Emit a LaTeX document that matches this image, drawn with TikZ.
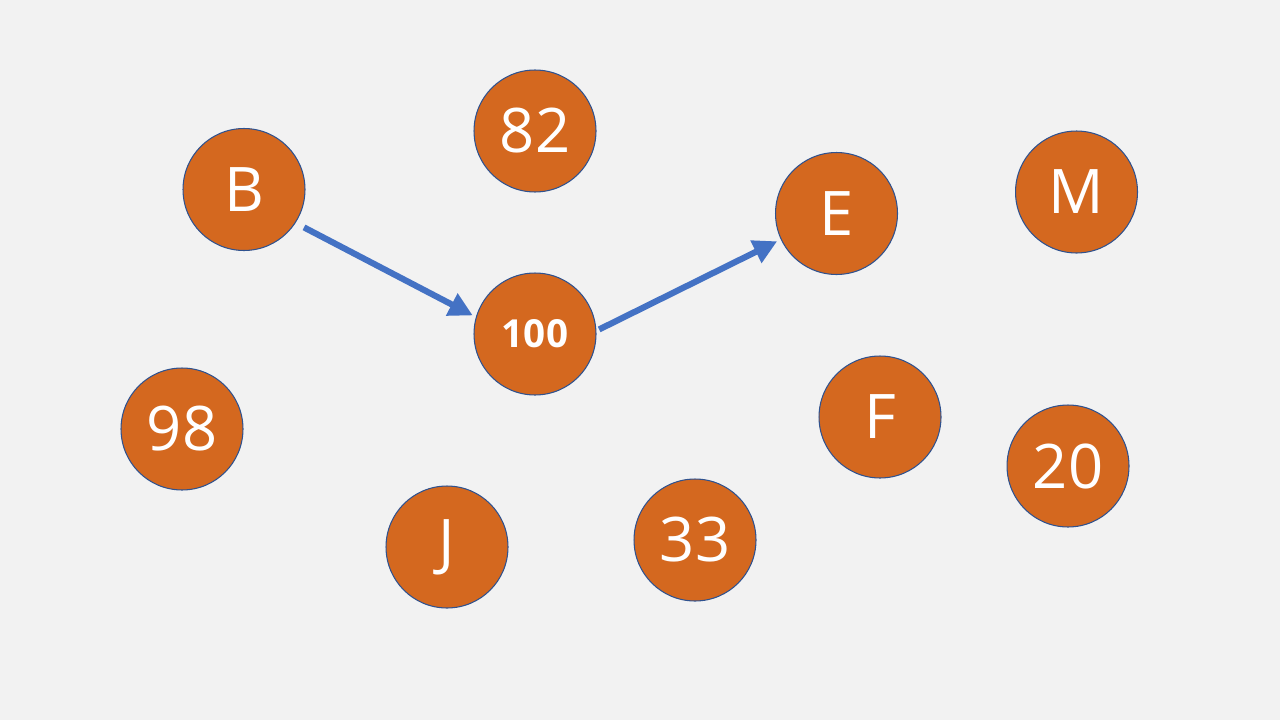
\documentclass[tikz,border=0pt]{standalone}
\usepackage{fontspec}
\setmainfont{Open Sans}
\usetikzlibrary{arrows.meta}
\definecolor{bg}{HTML}{F2F2F2}
\definecolor{nodefill}{HTML}{D4681F}
\definecolor{nodeedge}{HTML}{2F528F}
\definecolor{arrowblue}{HTML}{4472C4}
\begin{document}
\begin{tikzpicture}[x=0.02cm,y=-0.02cm,
  vertex/.style={circle,fill=nodefill,draw=nodeedge,line width=0.6pt,
    minimum size=2.44cm,inner sep=0pt,text=white,font=\fontsize{35}{40}\selectfont},
  bigvertex/.style={vertex,font=\fontsize{22}{26}\selectfont\bfseries},
  link/.style={arrowblue,line width=3.5pt,-{Triangle[length=13.5pt,width=13.5pt]}}]
\fill[bg] (0,0) rectangle (1280,720);
\useasboundingbox (0,0) rectangle (1280,720);
\node[vertex] (B) at (244,189.5) {B};
\node[vertex] (n82) at (535,131) {82};
\node[vertex] (E) at (836.5,213.5) {E};
\node[vertex] (M) at (1076.5,192) {M};
\node[bigvertex] (n100) at (535,334) {100};
\node[vertex] (n98) at (182,429) {98};
\node[vertex] (F) at (880,417) {F};
\node[vertex] (n20) at (1068,466) {20};
\node[vertex] (J) at (447,547) {J};
\node[vertex] (n33) at (695,540) {33};
\draw[link,shorten <=0.19cm,shorten >=0.07cm] (B.-33.5) -- (n100.164);
\draw[link,shorten <=0.06cm,shorten >=0.08cm] (n100.3.5) -- (E.205.4);
\end{tikzpicture}
\end{document}
